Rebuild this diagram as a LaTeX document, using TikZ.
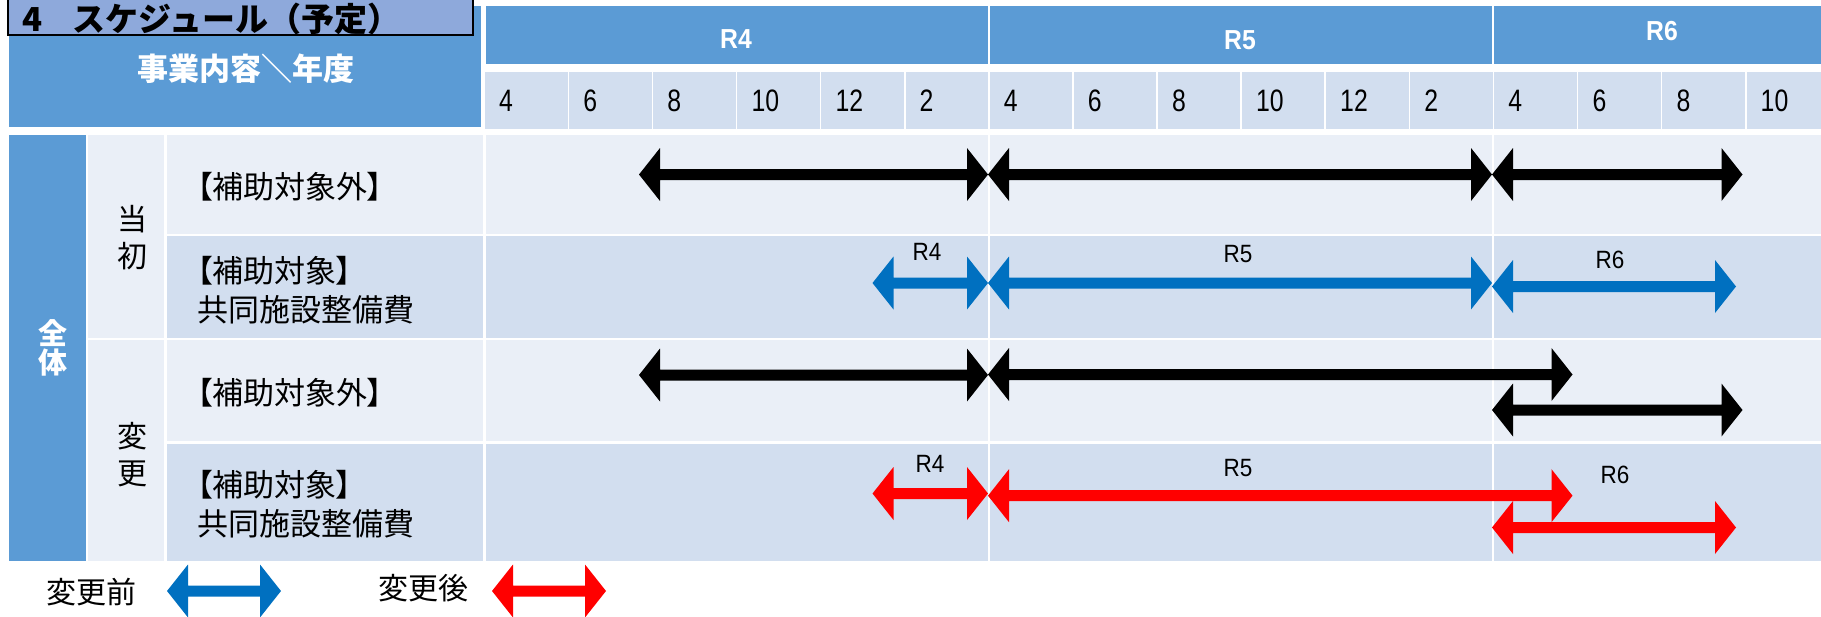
\documentclass[tikz,border=0pt]{standalone}
\usepackage{fontspec}
\usepackage{graphicx}
\setmainfont{Noto Sans CJK JP}
\newfontfamily\jpp[RawFeature=+palt]{Noto Sans CJK JP}
\newfontfamily\latf{Liberation Sans}
\usetikzlibrary{calc}
\definecolor{hdr}{HTML}{5B9BD5}
\definecolor{ttl}{HTML}{8EA9DB}
\definecolor{bandA}{HTML}{EAEFF7}
\definecolor{bandB}{HTML}{D2DEEF}
\definecolor{arrblue}{HTML}{0070C0}
\definecolor{arrred}{HTML}{FF0000}
\newcommand\dblarrow[3]{%
  \fill[#3] let \p1=(#1), \p2=(#2) in
    (\x1,\y1) -- (\x1+21pt,\y1+26.5pt) -- (\x1+21pt,\y1+5.5pt)
    -- (\x2-21pt,\y1+5.5pt) -- (\x2-21pt,\y1+26.5pt) -- (\x2,\y1)
    -- (\x2-21pt,\y1-26.5pt) -- (\x2-21pt,\y1-5.5pt)
    -- (\x1+21pt,\y1-5.5pt) -- (\x1+21pt,\y1-26.5pt) -- cycle;}
\newcommand\nar[1]{\scalebox{0.8}[1]{#1}}
\newcommand\narr[1]{\scalebox{0.9}[1]{#1}}
\begin{document}
\begin{tikzpicture}[x=1pt,y=-1pt,
  monthlbl/.style={anchor=west, inner sep=0pt, font=\latf\fontsize{31}{31}\selectfont},
  rlbl/.style={inner sep=0pt, font=\latf\fontsize{25}{25}\selectfont},
  hdrlbl/.style={text=white, inner sep=0pt, font=\latf\bfseries\fontsize{27.5}{27.5}\selectfont},
  itemlbl/.style={anchor=west, inner sep=0pt, align=left, font=\jpp\fontsize{31}{39}\selectfont},
  vlbl/.style={inner sep=0pt, align=center, font=\fontsize{30}{37}\selectfont},
  wlbl/.style={inner sep=0pt, align=center, text=white, font=\bfseries\fontsize{29}{29}\selectfont},
  lgd/.style={inner sep=0pt, font=\fontsize{30}{30}\selectfont}]
\useasboundingbox (0,0) rectangle (1821,616);
% header
\fill[hdr] (9,6) rectangle (481,127);
\node[text=white, inner sep=0pt, font=\bfseries\fontsize{31}{31}\selectfont] (hd) at (246,69) {事業内容＼年度};
\fill[ttl] (8,-10) rectangle (473,35);
\draw[line width=1.6pt] (8,-10) rectangle (473,35);
\node[anchor=base west, inner sep=0pt, font=\bfseries\fontsize{33}{33}\selectfont] (title) at (22,31) {4\hspace{30pt}スケジュール（予定）};
% year headers
\fill[hdr] (486,6) rectangle (987.5,64);
\fill[hdr] (989.5,6) rectangle (1491.5,64);
\fill[hdr] (1493.5,6) rectangle (1821,64);
\node[hdrlbl] (hR4) at (736,39) {\narr{R4}};
\node[hdrlbl] (hR5) at (1240,40) {\narr{R5}};
\node[hdrlbl] (hR6) at (1662,31) {\narr{R6}};
% months
\foreach \m [count=\i from 0] in {4,6,8,10,12,2,4,6,8,10,12,2,4,6,8,10} {
  \fill[bandB] ({485+84.1*\i},72) rectangle ++(82.5,57);
  \node[monthlbl] (m\i) at ({485+84.1*\i+14},101) {\nar{\m}};
}
% body left columns
\fill[hdr] (9,135) rectangle (86,561);
\fill[bandA] (87.5,135) rectangle (163.5,337.5);
\fill[bandA] (87.5,339.5) rectangle (163.5,561);
\node[wlbl] (zentai) at (53,348) {全\\体};
\node[vlbl] (tosho) at (132,238) {当\\初};
\node[vlbl] (henko) at (132,455) {変\\更};
% rows
\foreach \ya/\yb/\c in {135/233.5/bandA, 236/337.5/bandB, 339.5/441/bandA, 443.5/561/bandB} {
  \fill[\c] (166.5,\ya) rectangle (482.5,\yb);
  \fill[\c] (486,\ya) rectangle (987.5,\yb);
  \fill[\c] (989.5,\ya) rectangle (1491.5,\yb);
  \fill[\c] (1493.5,\ya) rectangle (1821,\yb);
}
\node[itemlbl] (it1) at (197,187) {【補助対象外】};
\node[itemlbl] (it2) at (197,290) {【補助対象】\\共同施設整備費};
\node[itemlbl] (it3) at (197,393) {【補助対象外】};
\node[itemlbl] (it4) at (197,504) {【補助対象】\\共同施設整備費};
% arrow endpoints
\coordinate (o1a) at (639,174.5); \coordinate (o1b) at (988,174.5);
\coordinate (o1c) at (1492,174.5); \coordinate (o1d) at (1742.5,174.5);
\coordinate (b1a) at (872.5,283); \coordinate (b1b) at (988,283); \coordinate (b1c) at (1492,283);
\coordinate (b2a) at (1492,286.5); \coordinate (b2b) at (1736,286.5);
\coordinate (c1a) at (639,375); \coordinate (c1b) at (988,375);
\coordinate (c2a) at (988,374.5); \coordinate (c2b) at (1572.5,374.5);
\coordinate (c3a) at (1492,410); \coordinate (c3b) at (1742.5,410);
\coordinate (d1a) at (872.5,493.5); \coordinate (d1b) at (988,493.5);
\coordinate (d2a) at (988,495.7); \coordinate (d2b) at (1572.5,495.7);
\coordinate (d3a) at (1492,527.5); \coordinate (d3b) at (1736,527.5);
% arrows
\dblarrow{o1a}{o1b}{black}
\dblarrow{o1b}{o1c}{black}
\dblarrow{o1c}{o1d}{black}
\dblarrow{b1a}{b1b}{arrblue}
\dblarrow{b1b}{b1c}{arrblue}
\dblarrow{b2a}{b2b}{arrblue}
\dblarrow{c1a}{c1b}{black}
\dblarrow{c2a}{c2b}{black}
\dblarrow{c3a}{c3b}{black}
\dblarrow{d1a}{d1b}{arrred}
\dblarrow{d2a}{d2b}{arrred}
\dblarrow{d3a}{d3b}{arrred}
% arrow labels
\node[rlbl] (l2r4) at (927,252) {\narr{R4}};
\node[rlbl] (l2r5) at (1238,254) {\narr{R5}};
\node[rlbl] (l2r6) at (1610,260) {\narr{R6}};
\node[rlbl] (l4r4) at (930,464) {\narr{R4}};
\node[rlbl] (l4r5) at (1238,468) {\narr{R5}};
\node[rlbl] (l4r6) at (1615,475) {\narr{R6}};
% legend
\node[lgd] (lgb) at (91,592) {変更前};
\coordinate (lb1) at (167,591); \coordinate (lb2) at (281,591);
\dblarrow{lb1}{lb2}{arrblue}
\node[lgd] (lga) at (423,588) {変更後};
\coordinate (lr1) at (492,591); \coordinate (lr2) at (606,591);
\dblarrow{lr1}{lr2}{arrred}
\end{tikzpicture}
\end{document}
